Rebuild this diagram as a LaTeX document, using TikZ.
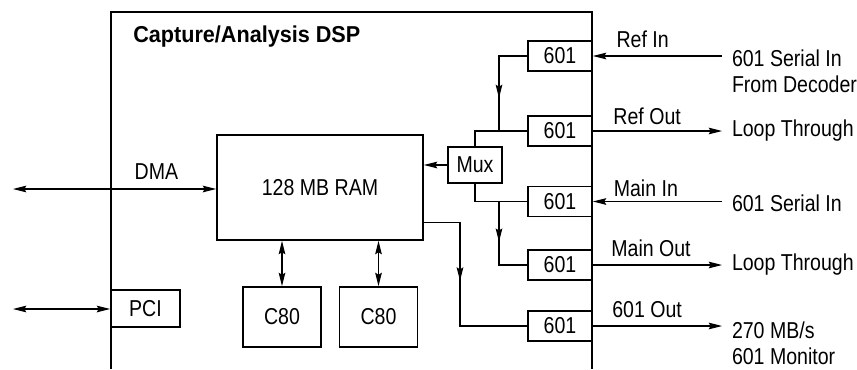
\documentclass[tikz,border=0pt]{standalone}
\usepackage{fontspec}
\setmainfont[FakeStretch=0.85]{Liberation Sans}
\newfontfamily\titlefont[FakeStretch=0.94]{Liberation Sans}
\usetikzlibrary{arrows.meta, decorations.markings}
\newcommand{\boardsize}{\fontsize{17.25pt}{19.5pt}\selectfont}

\begin{document}
\begin{tikzpicture}[x=0.75pt, y=-0.75pt, font=\boardsize,
    >={Stealth[length=10pt, width=5pt, inset=1.5pt]},
    frame/.style={line width=2.2pt},
    box/.style={draw, line width=1.4pt, inner sep=2pt},
    chip/.style={box, minimum width=48pt, minimum height=22.5pt},
    wire/.style={line width=0.8pt},
    lbl/.style={above=#1, inner sep=0pt}, lbl/.default=6pt,
    ext/.style={align=left, inner sep=0pt, outer xsep=7.5pt},
    midarr/.style={postaction={decorate}, decoration={markings, mark=at position #1 with {\arrow{>}}}}]
    \useasboundingbox (0,0) rectangle (857,369);

    % DSP board
    \draw[frame] (111,369) -- (111,12) -- (592,12) -- (592,369);
    \node[anchor=west, inner sep=0pt, font=\titlefont\bfseries\boardsize] (title) at (133,37) {Capture/Analysis DSP};

    % memory and processors
    \node[box, minimum width=154.5pt, minimum height=78.75pt] (ram) at (320,187.5) {128 MB RAM};
    \node[box, minimum width=51.75pt, minimum height=27.75pt] (pci) at (145.5,308.5) {PCI};
    \node[box, minimum width=58.5pt, minimum height=45pt] (c80a) at (282,317) {C80};
    \node[box, minimum width=58.5pt, minimum height=45pt] (c80b) at (378.5,317) {C80};
    \node[box, minimum width=40.5pt, minimum height=27pt] (mux) at (475,165) {Mux};

    % serial ports
    \node[chip] (refin) at (560,56) {601};
    \node[chip] (refout) at (560,131) {601};
    \node[chip] (mainin) at (560,201.5) {601};
    \node[chip] (mainout) at (560,265) {601};
    \node[chip] (sdiout) at (560,326) {601};

    % outside world
    \node[ext, anchor=north west] (srcref) at (722,49.5) {601 Serial In\\From Decoder};
    \node[ext, anchor=west] (loopref) at (722,131) {Loop Through};
    \node[ext, anchor=west] (srcmain) at (722,203) {601 Serial In};
    \node[ext, anchor=west] (loopmain) at (722,265) {Loop Through};
    \node[ext, anchor=north west] (monitor) at (722,321.5) {270 MB/s\\601 Monitor};
    \coordinate (host) at (13,189);
    \coordinate (bus) at (13,309);

    % host side
    \draw[wire,<->] (host) -- (host -| ram.west) node[lbl=6.75pt, pos=0.706] {DMA};
    \draw[wire,<->] (bus) -- (bus -| pci.west);
    \draw[wire,<->] (c80a.north) -- (c80a.north |- ram.south);
    \draw[wire,<->] (c80b.north) -- (c80b.north |- ram.south);

    % video lines
    \draw[wire,->] (srcref.west |- refin.east) -- (refin.east) node[lbl, pos=0.615] {Ref In};
    \draw[wire,->] (refout.east) -- (refout.east -| loopref.west) node[lbl=4.5pt, pos=0.42] {Ref Out};
    \draw[wire,->] (srcmain.west |- mainin.east) -- (mainin.east) node[lbl=3.5pt, pos=0.59] {Main In};
    \draw[wire,->] (mainout.east) -- (mainout.east -| loopmain.west) node[lbl, pos=0.45] {Main Out};
    \draw[wire,->] (sdiout.east) -- (sdiout.east -| monitor.west) node[lbl, pos=0.42] {601 Out};

    % routing inside
    \coordinate (tapref) at (499,131);
    \coordinate (tapmain) at (499,201.5);
    \coordinate (tapram) at (460,326);
    \draw[wire, midarr=0.68] (refin.west) -| (tapref);
    \draw[wire] (refout.west) -| (mux.north);
    \draw[wire,->] (mux.west) -- (mux.west -| ram.east);
    \draw[wire] (mux.south) |- (mainin.west);
    \draw[wire, midarr=0.44] (tapmain) |- (mainout.west);
    \draw[wire, midarr=0.455] ([yshift=13.5pt]ram.south east) -| (tapram) -- (sdiout.west);
\end{tikzpicture}
\end{document}
